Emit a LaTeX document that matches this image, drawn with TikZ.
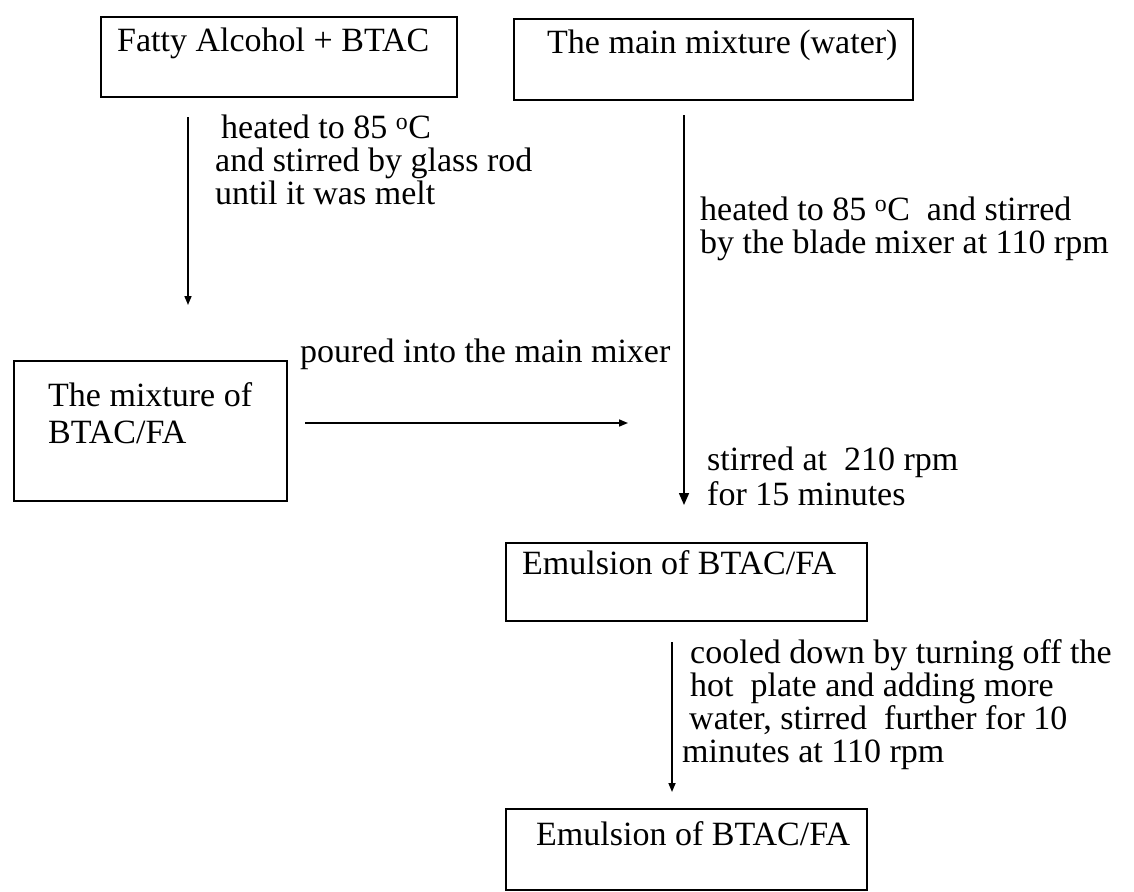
\documentclass[tikz,border=0pt]{standalone}
\usepackage{fontspec}
\setmainfont{Liberation Serif}
\usetikzlibrary{arrows.meta}
\begin{document}
\begin{tikzpicture}[x=1pt,y=-1pt,
  box/.style={draw, line width=1.6pt, anchor=north west, inner sep=0pt},
  lbl/.style={inner sep=0pt, anchor=north west, align=left, font=\fontsize{34}{33}\selectfont},
  one/.style={inner sep=0pt, anchor=base west, font=\fontsize{34}{33}\selectfont},
  arr/.style={line width=1.6pt, -{Triangle[width=10pt,length=12pt]}},
  farr/.style={line width=1.6pt, -{Triangle[width=7pt,length=9pt]}}]
\useasboundingbox (0,0) rectangle (1134,891);
% boxes
\node[box, minimum width=356pt, minimum height=80pt] (b1) at (100,16) {};
\node[box, minimum width=399pt, minimum height=81pt] (b2) at (513,18) {};
\node[box, minimum width=273pt, minimum height=140pt] (b3) at (13,360) {};
\node[box, minimum width=361pt, minimum height=78pt] (b4) at (505,542) {};
\node[box, minimum width=361pt, minimum height=81pt] (b5) at (505,808) {};
% box texts
\node[one] (t1) at (117,52) {Fatty Alcohol + BTAC};
\node[one] (t2) at (547,54) {The main mixture (water)};
\node[lbl] (t3) at (48,382) {The mixture of\\[4pt]BTAC/FA};
\node[one] (t4) at (522,574) {Emulsion of BTAC/FA};
\node[one] (t5) at (536,845) {Emulsion of BTAC/FA};
% step labels
\node[lbl] (s1) at (215,115) {\hspace*{6pt}heated to 85 \textsuperscript{o}C\\and stirred by glass rod\\until it was melt};
\node[lbl] (s2) at (700,197) {heated to 85 \textsuperscript{o}C\ \ and stirred\\by the blade mixer at 110 rpm};
\node[one] (s3) at (300,362) {poured into the main mixer};
\node[lbl] (s4) at (707,447) {stirred at\ \ 210 rpm\\[2pt]for 15 minutes};
\node[lbl] (s5) at (682,639) {\hspace*{8pt}cooled down by turning off the\\\hspace*{8pt}hot\ \ plate and adding more\\\hspace*{7pt}water, stirred\ \ further for 10\\minutes at 110 rpm};
% connector ends
\coordinate (a1s) at (188,117);
\coordinate (a1e) at (188,305);
\coordinate (a2s) at (684,115);
\coordinate (a2e) at (684,505);
\coordinate (a3s) at (305,423);
\coordinate (a3e) at (628,423);
\coordinate (a4s) at (672,642);
\coordinate (a4e) at (672,792);
\draw[farr] (a1s) -- (a1e);
\draw[arr] (a2s) -- (a2e);
\draw[farr] (a3s) -- (a3e);
\draw[farr] (a4s) -- (a4e);
\end{tikzpicture}
\end{document}
